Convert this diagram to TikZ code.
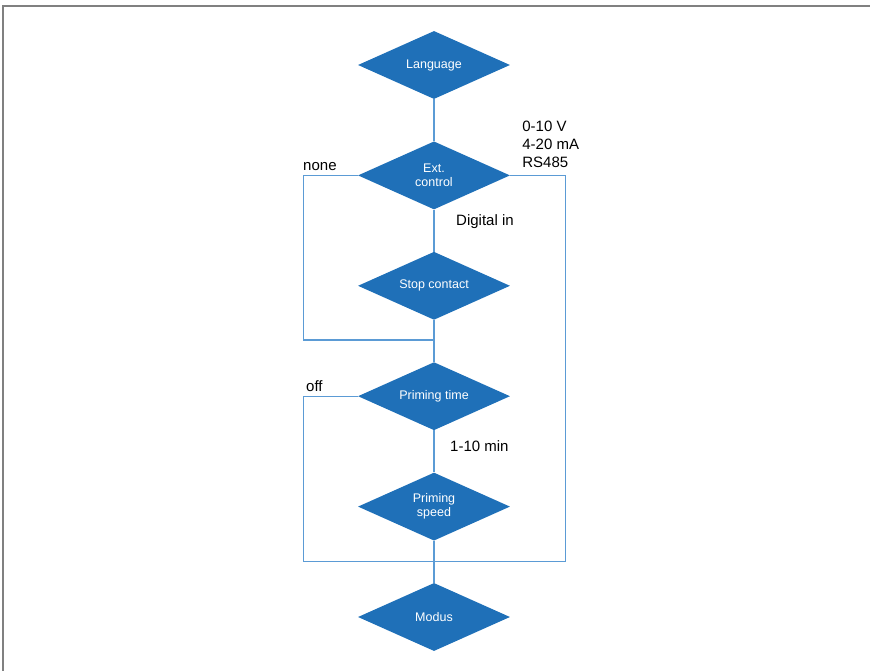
\documentclass[tikz,border=0pt]{standalone}
\usepackage{fontspec}
\setmainfont{Liberation Sans}
\usetikzlibrary{positioning, shapes.geometric}
\definecolor{boxblue}{HTML}{1F70B8}
\definecolor{lineblue}{HTML}{5B9BD5}

\begin{document}
\begin{tikzpicture}[node distance=42pt,
	step box/.style={diamond, aspect=2.235, fill=boxblue, text=white, minimum width=152pt, minimum height=68pt, inner sep=0pt, align=center, font=\fontsize{12.5pt}{14pt}\selectfont},
	lbl/.style={inner sep=0pt, align=left, font=\fontsize{15pt}{18pt}\selectfont},
	link/.style={draw=lineblue, line width=1.1pt}]
	\useasboundingbox (0,0) rectangle (870pt,-671pt);
	\draw[gray, line width=2pt] (3pt,-671pt) -- (3pt,-6.5pt) -- (870pt,-6.5pt);
	\node[step box] (lang) at (434pt,-65pt) {Language};
	\node[step box, below=of lang] (ext) {Ext.\\control};
	\node[step box, below=of ext] (stop) {Stop contact};
	\node[step box, below=of stop] (prime) {Priming time};
	\node[step box, below=of prime] (speed) {Priming\\speed};
	\node[step box, below=of speed] (modus) {Modus};
	\coordinate[below=20pt of stop] (join1);
	\coordinate[below=21pt of speed] (join2);
	\draw[link] (lang) -- (ext);
	\draw[link] (ext) -- (stop);
	\draw[link] (stop) -- (prime);
	\draw[link] (prime) -- (speed);
	\draw[link] (speed) -- (modus);
	\draw[link] (ext.west)--++(180:54pt) coordinate (aux) |- (join1);
	\draw[link] (ext.east)--++(0:55pt) coordinate (aux) |- (join2);
	\draw[link] (prime.west)--++(180:54pt) coordinate (aux) |- (join2);
	\node[lbl, left=21pt of ext.west, yshift=9pt] (none) {none};
	\node[lbl, right=12pt of ext.east, yshift=31pt] (signals) {0-10 V\\4-20 mA\\RS485};
	\node[lbl, right=22pt of ext.south, yshift=-12pt] (digital) {Digital in};
	\node[lbl, left=35pt of prime.west, yshift=10pt] (off) {off};
	\node[lbl, right=16pt of prime.south, yshift=-16pt] (minutes) {1-10 min};
\end{tikzpicture}
\end{document}
